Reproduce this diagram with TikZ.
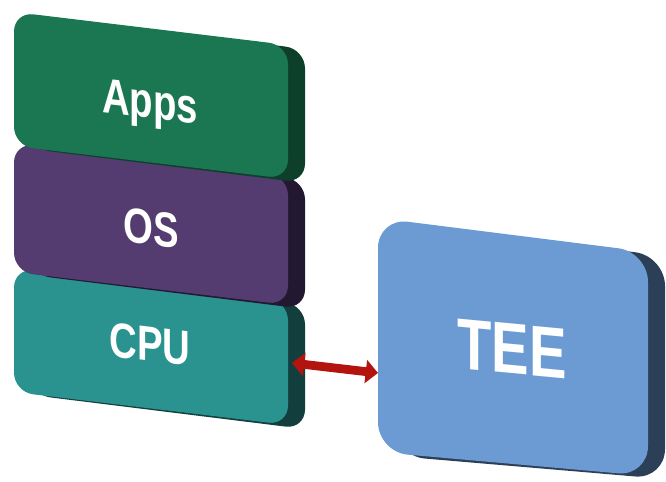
\documentclass[tikz,border=0pt]{standalone}
\usepackage{fontspec}
\setmainfont{Liberation Sans}
\usetikzlibrary{arrows.meta}

% couleurs des blocs (face avant / flanc)
\definecolor{apps}{HTML}{1B7752}
\definecolor{appsF}{HTML}{0D3F2B}
\definecolor{os}{HTML}{543B70}
\definecolor{osF}{HTML}{221830}
\definecolor{cpu}{HTML}{2A928F}
\definecolor{cpuF}{HTML}{123F3E}
\definecolor{tee}{HTML}{6C9BD3}
\definecolor{teeF}{HTML}{2B3F57}
\definecolor{rougefleche}{HTML}{B3140E}

\begin{document}
\begin{tikzpicture}[x=0.02cm, y=-0.02cm]
\tikzset{face/.style={rounded corners=11pt}} %coins arrondis des blocs
\tikzset{etiq/.style={text=white, yslant=-0.12, xscale=.78, inner sep=0pt,
  font=\bfseries\fontsize{28}{30}\selectfont}}
\tikzset{lien/.style={draw=rougefleche, line width=5pt,
  {Triangle[length=7pt,width=13pt]}-{Triangle[length=7pt,width=13pt]}}}
\useasboundingbox (0,0) rectangle (666,481);
% pile : CPU, OS puis Apps par-dessus
\foreach \t/\h/\coul in {268/124/cpu, 143/129/os, 12/134/apps}{
  \fill[fill=\coul F, face] (31,\t+3) -- ++(274,34) -- ++(0,\h) -- ++(-274,-34) -- cycle;
  \fill[fill=\coul, face] (14,\t) -- ++(274,33) -- ++(0,\h) -- ++(-274,-33) -- cycle;
}
\node[etiq] (apps) at (150,106) {Apps};
\node[etiq] (os) at (151,228) {OS};
\node[etiq] (cpu) at (150,344) {CPU};
% bloc TEE
\fill[teeF, rounded corners=17pt] (395,222) -- (665,256) -- (665,479) -- (395,456) -- cycle;
\fill[tee, rounded corners=17pt] (378,218) -- (648,252) -- (648,476) -- (378,452) -- cycle;
\node[etiq, yslant=0.02, font=\bfseries\fontsize{41}{44}\selectfont] (tee) at (512,349) {TEE};
% liaison CPU <-> TEE
\coordinate (cpu-d) at (292,363);
\coordinate (tee-g) at (378,373);
\draw[lien] (cpu-d) -- (tee-g);
\end{tikzpicture}
\end{document}
